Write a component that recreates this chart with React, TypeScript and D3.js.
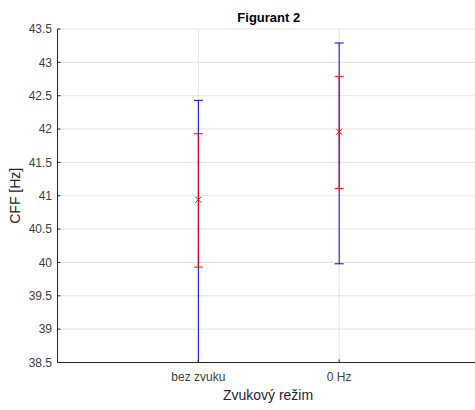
import React from "react";
import * as d3 from "d3";

const categories = ["bez zvuku", "0 Hz"];
const means = [40.94, 41.96];
const stdLow = [39.93, 41.11];
const stdHigh = [41.93, 42.79];
const rangeLow = [38.5, 39.98];
const rangeHigh = [42.43, 43.29];
const yTicks = [38.5, 39, 39.5, 40, 40.5, 41, 41.5, 42, 42.5, 43, 43.5];

const W = 475;
const H = 410;
const margin = { left: 57.5, top: 29, bottom: 362.5 };
const font = "'Liberation Sans', Arial, Helvetica, sans-serif";

export default function App() {
  const x = d3.scaleLinear().domain([0, categories.length + 1]).range([margin.left, 480]);
  const y = d3.scaleLinear().domain([38.5, 43.5]).range([margin.bottom, margin.top]);
  const cap = 4.5;
  const m = 3;

  return (
    <svg width={W} height={H} style={{ position: "absolute", left: 0, top: 0, background: "#fff" }}>
      {/* grid */}
      {yTicks.map((t) => (
        <line key={"gy" + t} x1={margin.left} x2={W} y1={y(t)} y2={y(t)} stroke="#e3e3e3" strokeWidth={1} />
      ))}
      {categories.map((c, i) => (
        <line key={"gx" + c} x1={x(i + 1)} x2={x(i + 1)} y1={margin.top} y2={margin.bottom} stroke="#e3e3e3" strokeWidth={1} />
      ))}

      {/* range bars (blue) */}
      {categories.map((c, i) => {
        const cx = x(i + 1);
        return (
          <g key={"r" + c} stroke="#0000ff" strokeWidth={1}>
            <line x1={cx} x2={cx} y1={y(rangeLow[i])} y2={y(rangeHigh[i])} />
            <line x1={cx - cap} x2={cx + cap} y1={y(rangeLow[i])} y2={y(rangeLow[i])} />
            <line x1={cx - cap} x2={cx + cap} y1={y(rangeHigh[i])} y2={y(rangeHigh[i])} />
          </g>
        );
      })}

      {/* std bars (red) with mean markers */}
      {categories.map((c, i) => {
        const cx = x(i + 1);
        const cy = y(means[i]);
        return (
          <g key={"s" + c} stroke="#ff0000" strokeWidth={1}>
            <line x1={cx} x2={cx} y1={y(stdLow[i])} y2={y(stdHigh[i])} />
            <line x1={cx - cap} x2={cx + cap} y1={y(stdLow[i])} y2={y(stdLow[i])} />
            <line x1={cx - cap} x2={cx + cap} y1={y(stdHigh[i])} y2={y(stdHigh[i])} />
            <line x1={cx - m} x2={cx + m} y1={cy - m} y2={cy + m} />
            <line x1={cx - m} x2={cx + m} y1={cy + m} y2={cy - m} />
          </g>
        );
      })}

      {/* axes */}
      <line x1={margin.left} x2={margin.left} y1={margin.top} y2={margin.bottom} stroke="#262626" strokeWidth={1} />
      <line x1={margin.left} x2={W} y1={margin.bottom} y2={margin.bottom} stroke="#262626" strokeWidth={1} />
      {yTicks.map((t) => (
        <g key={"ty" + t}>
          <line x1={margin.left} x2={margin.left + 3} y1={y(t)} y2={y(t)} stroke="#262626" />
          <text x={margin.left - 5.5} y={y(t)} dy="0.35em" textAnchor="end" fontSize={12} fontFamily={font} fill="#404040">
            {t}
          </text>
        </g>
      ))}
      {categories.map((c, i) => (
        <g key={"tx" + c}>
          <line x1={x(i + 1)} x2={x(i + 1)} y1={margin.bottom} y2={margin.bottom - 3} stroke="#262626" />
          <text x={x(i + 1)} y={381} textAnchor="middle" fontSize={12} fontFamily={font} fill="#404040">
            {c}
          </text>
        </g>
      ))}

      <text x={(margin.left + 480) / 2} y={22} textAnchor="middle" fontSize={13} fontWeight="bold" fontFamily={font} fill="#000">
        Figurant 2
      </text>
      <text x={268} y={400} textAnchor="middle" fontSize={14} fontFamily={font} fill="#262626">
        Zvukový režim
      </text>
      <text
        transform={`translate(20, ${(margin.top + margin.bottom) / 2}) rotate(-90)`}
        textAnchor="middle"
        fontSize={14}
        fontFamily={font}
        fill="#262626"
      >
        CFF [Hz]
      </text>
    </svg>
  );
}
